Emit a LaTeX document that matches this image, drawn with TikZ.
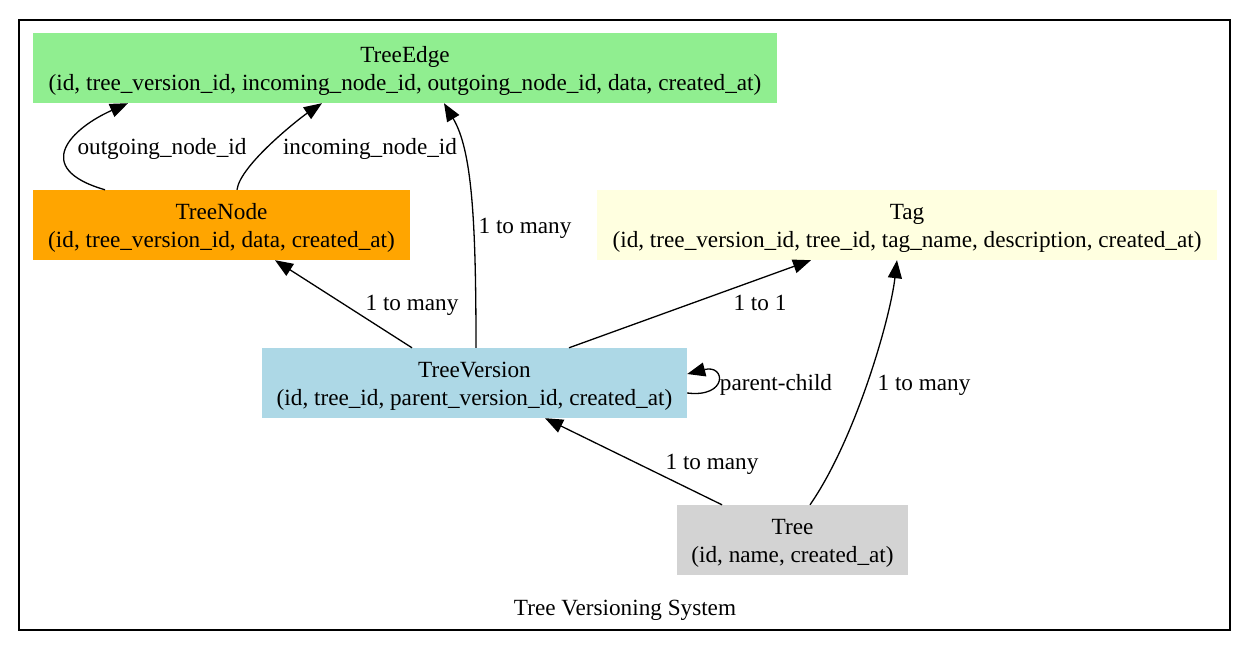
\documentclass[tikz,border=0pt]{standalone}
\usepackage{fontspec}
\setmainfont{Liberation Serif}
\usetikzlibrary{arrows.meta}
\definecolor{edgegreen}{HTML}{90EE90}
\definecolor{nodeorange}{HTML}{FFA500}
\definecolor{tagyellow}{HTML}{FFFFE0}
\definecolor{versionblue}{HTML}{ADD8E6}
\definecolor{treegray}{HTML}{D3D3D3}
\begin{document}
\begin{tikzpicture}[
        x=1pt, y=-1pt,
        font=\fontsize{23.2}{28.4}\selectfont,
        entity/.style={rectangle, inner sep=0pt, align=center, minimum height=70pt,
            text height=46pt, text depth=0.6pt},
        rel/.style={line width=1.3pt, -{Triangle[length=18pt,width=14pt]}},
        lbl/.style={inner sep=0pt, anchor=base}
    ]
        \useasboundingbox (0,0) rectangle (1251,650);
        % Cluster frame
        \draw[line width=1.5pt] (19,20) rectangle (1230,630);
        \node[lbl] (title) at (625,615.5) {Tree Versioning System};
        % Tables
        \node[entity, fill=edgegreen, minimum width=744pt] (treeedge) at (405,68)
            {TreeEdge\\(id, tree\_version\_id, incoming\_node\_id, outgoing\_node\_id, data, created\_at)};
        \node[entity, fill=nodeorange, minimum width=377pt] (treenode) at (221.5,225)
            {TreeNode\\(id, tree\_version\_id, data, created\_at)};
        \node[entity, fill=tagyellow, minimum width=620pt] (tag) at (907,225)
            {Tag\\(id, tree\_version\_id, tree\_id, tag\_name, description, created\_at)};
        \node[entity, fill=versionblue, minimum width=425pt] (treeversion) at (474.5,383)
            {TreeVersion\\(id, tree\_id, parent\_version\_id, created\_at)};
        \node[entity, fill=treegray, minimum width=231pt] (tree) at (792.5,540)
            {Tree\\(id, name, created\_at)};
        % Relations
        \draw[rel] ([xshift=-116.5pt]treenode.north) .. controls (30,168) and (72,128) .. ([xshift=-277pt]treeedge.south);
        \node[lbl] (outlbl) at (162,155) {outgoing\_node\_id};
        \draw[rel] ([xshift=15.5pt]treenode.north) .. controls (240,165) and (300,118) .. ([xshift=-83pt]treeedge.south);
        \node[lbl] (inlbl) at (370,155) {incoming\_node\_id};
        \draw[rel] ([xshift=1.5pt]treeversion.north) .. controls (476,220) and (472,150) .. ([xshift=39pt]treeedge.south);
        \node[lbl] (edgelbl) at (525,233.5) {1 to many};
        \draw[rel] ([xshift=-62.5pt]treeversion.north) -- ([xshift=53.5pt]treenode.south);
        \node[lbl] (nodelbl) at (412,310.5) {1 to many};
        \draw[rel] ([xshift=94.5pt]treeversion.north) -- ([xshift=-96pt]tag.south);
        \node[lbl] (taglbl) at (760,310.5) {1 to 1};
        \draw[rel] ([yshift=-10pt]treeversion.east) .. controls (728,398) and (726,364) .. ([yshift=9pt]treeversion.east);
        \node[lbl] (parentlbl) at (776,390.5) {parent-child};
        \draw[rel] ([xshift=-70.5pt]tree.north) -- ([xshift=70.5pt]treeversion.south);
        \node[lbl] (versionlbl) at (712,469.5) {1 to many};
        \draw[rel] ([xshift=17.5pt]tree.north) .. controls (855,440) and (890,320) .. ([xshift=-10pt]tag.south);
        \node[lbl] (treetaglbl) at (924,390.5) {1 to many};
    \end{tikzpicture}
\end{document}
